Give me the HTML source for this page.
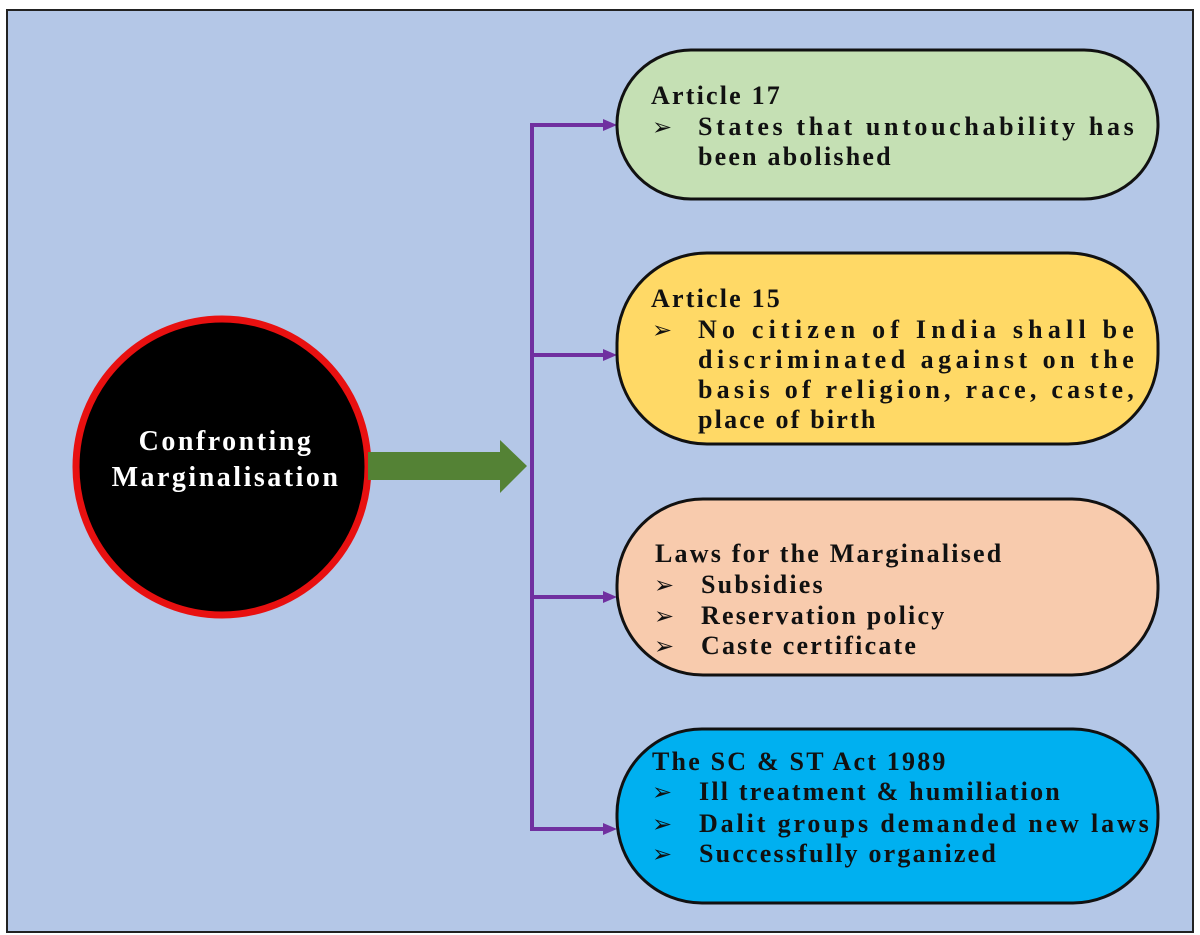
<!DOCTYPE html>
<html><head><meta charset="utf-8"><style>
html,body{margin:0;padding:0;background:#fff;}
svg{display:block;}
text{font-family:"Liberation Serif",serif;font-weight:bold;font-size:26px;fill:#111;letter-spacing:2.2px;}
.b{font-size:24px;letter-spacing:0;font-family:"DejaVu Sans",sans-serif;}
</style></head><body>
<svg width="1200" height="935" viewBox="0 0 1200 935">
<rect x="7" y="10" width="1186" height="922" fill="#b4c7e7" stroke="#222" stroke-width="2"/>
<ellipse cx="222" cy="467" rx="146" ry="148" fill="#000" stroke="#e81010" stroke-width="7"/>
<text x="226" y="450" text-anchor="middle" style="fill:#fff;font-size:28px;letter-spacing:2.5px">Confronting</text>
<text x="226" y="486" text-anchor="middle" style="fill:#fff;font-size:28px;letter-spacing:2.5px">Marginalisation</text>
<polygon points="368,452 500,452 500,440 527,466 500,493 500,480 368,480" fill="#548235"/>
<g stroke="#7030a0" stroke-width="4" fill="none">
<line x1="532" y1="123" x2="532" y2="831"/>
<line x1="530" y1="125" x2="605" y2="125"/>
<line x1="530" y1="355" x2="605" y2="355"/>
<line x1="530" y1="597" x2="605" y2="597"/>
<line x1="530" y1="829" x2="605" y2="829"/>
</g>
<g fill="#7030a0">
<polygon points="603,119 617,125 603,131"/>
<polygon points="603,349 617,355 603,361"/>
<polygon points="603,591 617,597 603,603"/>
<polygon points="603,823 617,829 603,835"/>
</g>
<g stroke="#111" stroke-width="3">
<rect x="617" y="50" width="541" height="149" rx="74" fill="#c5e0b4"/>
<rect x="617" y="253" width="541" height="191" rx="90" fill="#ffd966"/>
<rect x="617" y="499" width="541" height="176" rx="86" fill="#f8cbad"/>
<rect x="617" y="729" width="541" height="174" rx="85" fill="#00b0f0"/>
</g>
<text x="651" y="104">Article 17</text>
<text class="b" x="652" y="135">➢</text>
<text x="698" y="135" textLength="438" lengthAdjust="spacing">States that untouchability has</text>
<text x="698" y="165">been abolished</text>
<text x="651" y="307">Article 15</text>
<text class="b" x="652" y="338">➢</text>
<text x="698" y="338" textLength="438" lengthAdjust="spacing">No citizen of India shall be</text>
<text x="698" y="368" textLength="438" lengthAdjust="spacing">discriminated against on the</text>
<text x="698" y="398" textLength="438" lengthAdjust="spacing">basis of religion, race, caste,</text>
<text x="698" y="428">place of birth</text>
<text x="655" y="562">Laws for the Marginalised</text>
<text class="b" x="654" y="593">➢</text>
<text x="701" y="593">Subsidies</text>
<text class="b" x="654" y="624">➢</text>
<text x="701" y="624">Reservation policy</text>
<text class="b" x="654" y="654">➢</text>
<text x="701" y="654">Caste certificate</text>
<text x="652" y="770">The SC &amp; ST Act 1989</text>
<text class="b" x="652" y="800">➢</text>
<text x="699" y="800">Ill treatment &amp; humiliation</text>
<text class="b" x="652" y="832">➢</text>
<text x="699" y="832" textLength="452" lengthAdjust="spacing">Dalit groups demanded new laws</text>
<text class="b" x="652" y="862">➢</text>
<text x="699" y="862">Successfully organized</text>
</svg>
</body></html>
